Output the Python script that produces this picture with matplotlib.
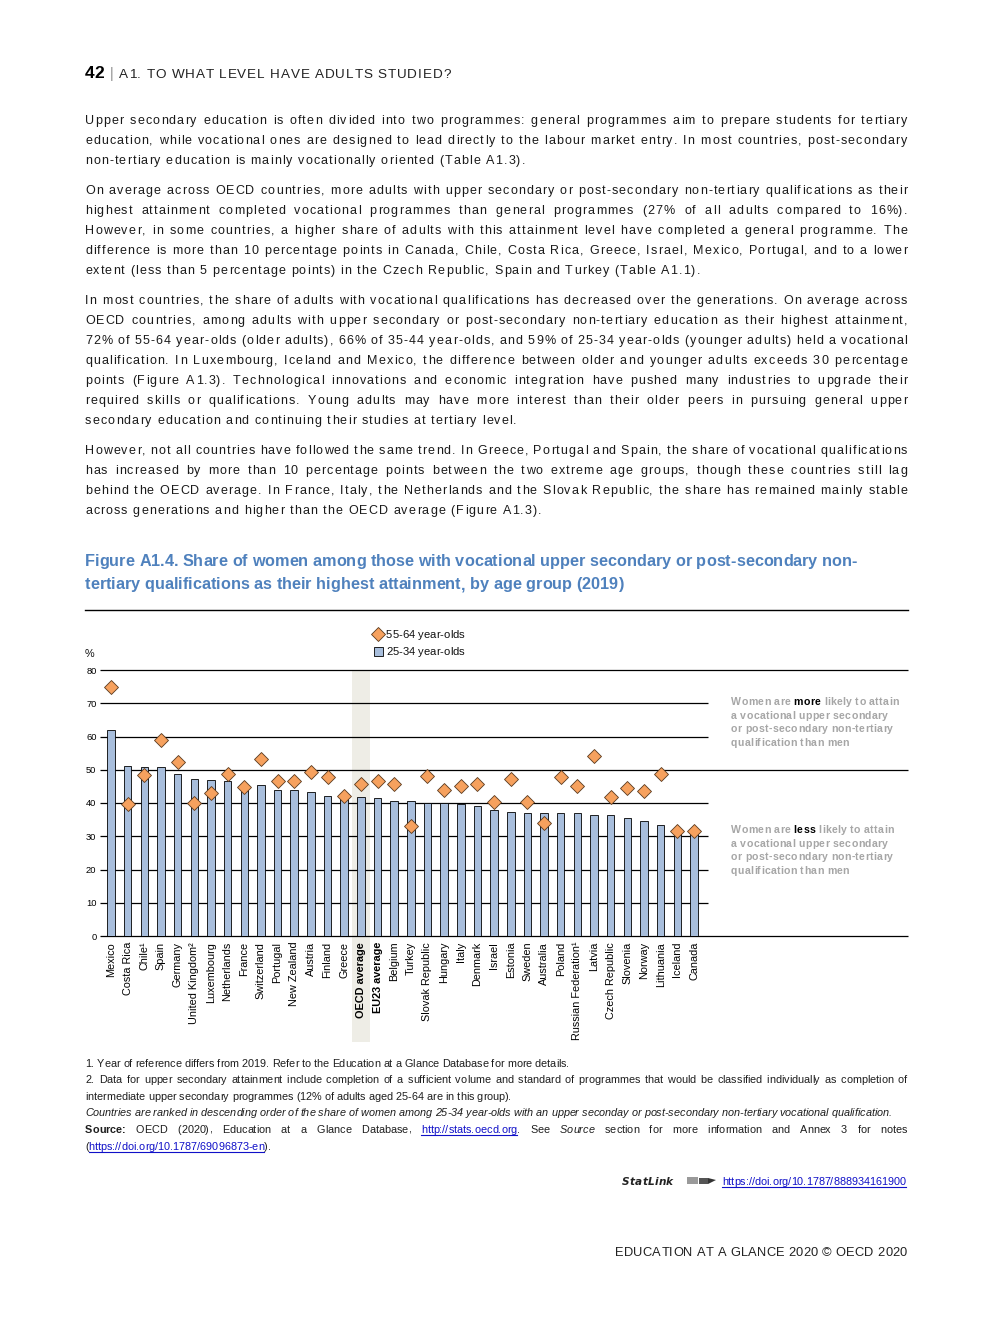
import matplotlib
matplotlib.use("Agg")
import matplotlib.pyplot as plt
from matplotlib import font_manager as fm
from matplotlib.patches import Rectangle, Polygon

# ---------------- data ----------------
categories = ["Mexico", "Costa Rica", "Chile\u00b9", "Spain", "Germany", "United Kingdom\u00b2",
              "Luxembourg", "Netherlands", "France", "Switzerland", "Portugal", "New Zealand",
              "Austria", "Finland", "Greece", "OECD average", "EU23 average", "Belgium", "Turkey",
              "Slovak Republic", "Hungary", "Italy", "Denmark", "Israel", "Estonia", "Sweden",
              "Australia", "Poland", "Russian Federation\u00b9", "Latvia", "Czech Republic",
              "Slovenia", "Norway", "Lithuania", "Iceland", "Canada"]
share_25_34 = [62.0, 51.1, 50.8, 50.8, 48.6, 47.3, 46.8, 46.5, 45.5, 45.3, 43.8, 43.8,
               43.2, 42.0, 41.8, 41.7, 41.4, 40.5, 40.5, 39.9, 39.9, 39.7, 39.0, 37.8,
               37.2, 36.9, 36.9, 36.9, 36.9, 36.3, 36.3, 35.4, 34.5, 33.3, 31.8, 31.5]
share_55_64 = [75.0, 39.6, 48.3, 58.9, 52.4, 40.1, 42.9, 48.8, 44.9, 53.2, 46.7, 46.7,
               49.3, 47.7, 42.2, 45.6, 46.7, 45.6, 33.1, 48.2, 43.9, 45.2, 45.8, 40.4,
               47.2, 40.4, 34.1, 47.7, 45.2, 54.1, 41.7, 44.4, 43.7, 48.7, 31.7, 31.7]
y_ticks = [0, 10, 20, 30, 40, 50, 60, 70, 80]
highlight_categories = ["OECD average", "EU23 average"]
series_labels = ["55-64 year-olds", "25-34 year-olds"]

W, H = 992, 1323
fig = plt.figure(figsize=(W / 100, H / 100), dpi=100)
fig.patch.set_facecolor("white")

names = {f.name for f in fm.fontManager.ttflist}
SANS = "Liberation Sans"
if "Liberation Sans Narrow" in names:
    NARROW, NS = "Liberation Sans Narrow", 1.0
else:
    NARROW, NS = "Liberation Sans", 0.84

BAR_C = "#a8bedc"
DIA_C = "#f6a15e"
BAND_C = "#eeede6"
TITLE_C = "#4f81bd"
GRAY_T = "#a6a6a6"
LINK_C = "#1010c8"

# ---------------- chart ----------------
ax = fig.add_axes([100 / W, 1 - 936 / H, 608 / W, 266 / H])
ax.set_xlim(-0.66, 35.84)
ax.set_ylim(0, 80)
for s in ax.spines.values():
    s.set_visible(False)
ax.patch.set_alpha(0)

xs = list(range(len(categories)))
oecd_i = categories.index("OECD average")
band = Rectangle((oecd_i - 0.52, -31.9), 1.04, 111.9, facecolor=BAND_C, edgecolor="none",
                 zorder=0, clip_on=False)
ax.add_patch(band)

ext = (908 - 100) / 608
for yv in y_ticks:
    xe = ext if yv in (0, 50, 80) else 1.0
    ax.plot([0, xe], [yv, yv], color="black", lw=0.9, transform=ax.get_yaxis_transform(),
            clip_on=False, zorder=1, solid_capstyle="butt")

ax.bar(xs, share_25_34, width=0.45, color=BAR_C, edgecolor="black", linewidth=0.6, zorder=2)
ax.plot(xs, share_55_64, linestyle="none", marker="D", markersize=6.8, markerfacecolor=DIA_C,
        markeredgecolor="#5a3a1e", markeredgewidth=0.6, zorder=3)

ax.set_yticks(y_ticks)
ax.set_yticklabels([str(v) for v in y_ticks], fontfamily=NARROW, fontsize=7.6 * NS / 0.95)
ax.tick_params(axis="y", length=0, pad=2.5)
ax.set_xticks(xs)
ax.set_xticklabels(categories, rotation=90, fontfamily=NARROW, fontsize=8.85 * NS / 0.95,
                   va="top", ha="center")
for lbl in ax.get_xticklabels():
    if lbl.get_text() in highlight_categories:
        lbl.set_fontweight("bold")
ax.tick_params(axis="x", length=0, pad=4.2)

# ---------------- page overlay ----------------
pg = fig.add_axes([0, 0, 1, 1], zorder=5)
pg.set_xlim(0, W)
pg.set_ylim(H, 0)
pg.axis("off")

_cache = {}


def advance(ch, p):
    key = (ch, p["fam"], p["size"], p["weight"], p["style"])
    if key in _cache:
        return _cache[key]
    fp = fm.FontProperties(family=p["fam"], size=p["size"], weight=p["weight"], style=p["style"])
    font = fm.get_font(fm.findfont(fp))
    font.set_size(p["size"], 100)
    g = font.load_char(ord(ch))
    a = g.linearHoriAdvance / 65536
    _cache[key] = a
    return a


def style(fam, size, weight="normal", st="normal", color="#222222", ls=0.0, ul=False):
    return dict(fam=fam, size=size, weight=weight, style=st, color=color, ls=ls, ul=ul)


def draw_line(runs, x0, yb, x1=None, align="left"):
    chars = []
    for ri, (text, p) in enumerate(runs):
        for ch in text:
            chars.append((ch, p, ri))
    advs = [advance(ch, p) + p["ls"] for ch, p, _ in chars]
    natural = sum(advs) - chars[-1][1]["ls"]
    nsp = sum(1 for ch, _, _ in chars if ch == " ")
    extra = 0.0
    if align == "justify" and nsp:
        extra = (x1 - x0 - natural) / nsp
    elif align == "right":
        x0 = x1 - natural
    x = x0
    ul = {}
    for (ch, p, ri), a in zip(chars, advs):
        if ch != " ":
            pg.text(x, yb, ch, fontfamily=p["fam"], fontsize=p["size"], fontweight=p["weight"],
                    fontstyle=p["style"], color=p["color"], ha="left", va="baseline")
        if p["ul"]:
            s0, s1 = ul.get(ri, (x, x))
            ul[ri] = (min(s0, x), x + a - p["ls"])
        x += a + (extra if ch == " " else 0.0)
    for ri, (s0, s1) in ul.items():
        pg.plot([s0, s1], [yb + 1.8, yb + 1.8], color=runs[ri][1]["color"], lw=0.8)
    return natural


# header
draw_line([("42", style(SANS, 12.5, "bold", color="black"))], 85, 78)
draw_line([("|", style(SANS, 10, color="#8c8c8c"))], 110, 78)
draw_line([("A1. TO WHAT LEVEL HAVE ADULTS STUDIED?", style(SANS, 9.7, color="#222222", ls=0.85))],
          119, 78)

# body text
body = style(SANS, 9.0, color="#1a1a1a", ls=1.1)
paragraphs = [
    (124, ["Upper secondary education is often divided into two programmes: general programmes aim to prepare students for tertiary",
           "education, while vocational ones are designed to lead directly to the labour market entry. In most countries, post-secondary",
           "non-tertiary education is mainly vocationally oriented (Table A1.3)."]),
    (194, ["On average across OECD countries, more adults with upper secondary or post-secondary non-tertiary qualifications as their",
           "highest attainment completed vocational programmes than general programmes (27% of all adults compared to 16%).",
           "However, in some countries, a higher share of adults with this attainment level have completed a general programme. The",
           "difference is more than 10 percentage points in Canada, Chile, Costa Rica, Greece, Israel, Mexico, Portugal, and to a lower",
           "extent (less than 5 percentage points) in the Czech Republic, Spain and Turkey (Table A1.1)."]),
    (304, ["In most countries, the share of adults with vocational qualifications has decreased over the generations. On average across",
           "OECD countries, among adults with upper secondary or post-secondary non-tertiary education as their highest attainment,",
           "72% of 55-64 year-olds (older adults), 66% of 35-44 year-olds, and 59% of 25-34 year-olds (younger adults) held a vocational",
           "qualification. In Luxembourg, Iceland and Mexico, the difference between older and younger adults exceeds 30 percentage",
           "points (Figure A1.3). Technological innovations and economic integration have pushed many industries to upgrade their",
           "required skills or qualifications. Young adults may have more interest than their older peers in pursuing general upper",
           "secondary education and continuing their studies at tertiary level."]),
    (454, ["However, not all countries have followed the same trend. In Greece, Portugal and Spain, the share of vocational qualifications",
           "has increased by more than 10 percentage points between the two extreme age groups, though these countries still lag",
           "behind the OECD average. In France, Italy, the Netherlands and the Slovak Republic, the share has remained mainly stable",
           "across generations and higher than the OECD average (Figure A1.3)."]),
]
for y0, lines in paragraphs:
    for i, ln in enumerate(lines):
        last = i == len(lines) - 1
        draw_line([(ln, body)], 85, y0 + 20 * i, 907, "left" if last else "justify")

# figure title
tsize = (12.6 * NS / 0.95 if NS < 1 else 12.6) * 1.054
tstyle = style(NARROW, tsize, "bold", color=TITLE_C)
draw_line([("Figure A1.4. Share of women among those with vocational upper secondary or post-secondary non-", tstyle)], 85, 566)
draw_line([("tertiary qualifications as their highest attainment, by age group (2019)", tstyle)], 85, 589)
pg.plot([85, 908], [610, 610], color="black", lw=1.0)

# legend
pg.plot([378], [634], marker="D", markersize=6.8, markerfacecolor=DIA_C, markeredgecolor="#5a3a1e",
        markeredgewidth=0.6, linestyle="none")
pg.add_patch(Rectangle((373.5, 646.5), 9, 9, facecolor=BAR_C, edgecolor="black", lw=0.6))
lstyle = style(NARROW, (8.6 * NS / 0.95 if NS < 1 else 8.6) * 1.07, color="#111111")
draw_line([(series_labels[0], lstyle)], 386, 638)
draw_line([(series_labels[1], lstyle)], 386, 655)
draw_line([("%", style(NARROW, 8.6 if NS == 1 else 7.8, color="#111111"))], 85, 657)

# right-hand annotations
asz = 8.7 if NS == 1 else 7.6
ag = style(NARROW, asz, "bold", color=GRAY_T, ls=0.32)
ab = style(NARROW, asz, "bold", color="black", ls=0.32)
for yb, word in ((705, "more"), (833, "less")):
    draw_line([("Women are ", ag), (word, ab), (" likely to attain", ag)], 731, yb)
    draw_line([("a vocational upper secondary", ag)], 731, yb + 13.6)
    draw_line([("or post-secondary non-tertiary", ag)], 731, yb + 27.2)
    draw_line([("qualification than men", ag)], 731, yb + 40.8)

# footnotes
fsz = (8.3 if NS == 1 else 7.1) * 1.1
fn = style(NARROW, fsz, color="#1e1e1e")
fni = style(NARROW, fsz, st="italic", color="#1e1e1e")
fnb = style(NARROW, fsz, "bold", color="#1e1e1e")
fnl = style(NARROW, fsz, color=LINK_C, ul=True)
draw_line([("1. Year of reference differs from 2019. Refer to the Education at a Glance Database for more details.", fn)], 85, 1067)
draw_line([("2. Data for upper secondary attainment include completion of a sufficient volume and standard of programmes that would be classified individually as completion of", fn)],
          85, 1083, 907, "justify")
draw_line([("intermediate upper secondary programmes (12% of adults aged 25-64 are in this group).", fn)], 85, 1100)
draw_line([("Countries are ranked in descending order of the share of women among 25-34 year-olds with an upper seconday or post-secondary non-tertiary vocational qualification.", fni)],
          85, 1116)
draw_line([("Source:", fnb), (" OECD (2020), Education at a Glance Database, ", fn), ("http://stats.oecd.org", fnl),
           (". See ", fn), ("Source", fni), (" section for more information and Annex 3 for notes", fn)],
          85, 1133, 907, "justify")
draw_line([("(", fn), ("https://doi.org/10.1787/69096873-en", fnl), (").", fn)], 85, 1150)

# StatLink
draw_line([("StatLink", style("DejaVu Sans", 7.6, "bold", "italic", color="#222222", ls=0.2))], 622, 1185)
pg.add_patch(Rectangle((687, 1177), 11, 7, facecolor="#9a9a9a", edgecolor="none"))
pg.add_patch(Rectangle((699, 1178), 9, 6, facecolor="#555555", edgecolor="none"))
pg.add_patch(Polygon([(708, 1178), (716, 1180), (708, 1184)], closed=True, facecolor="#333333", edgecolor="none"))
draw_line([("https://doi.org/10.1787/888934161900", style(NARROW, fsz, color=LINK_C, ul=True))], 722, 1185)

# footer
draw_line([("EDUCATION AT A GLANCE 2020 \u00a9 OECD 2020", style(SANS, 9.3, color="#222222", ls=0.25))],
          0, 1256, 907, "right")

fig.savefig("out.png", dpi=100, facecolor="white")
